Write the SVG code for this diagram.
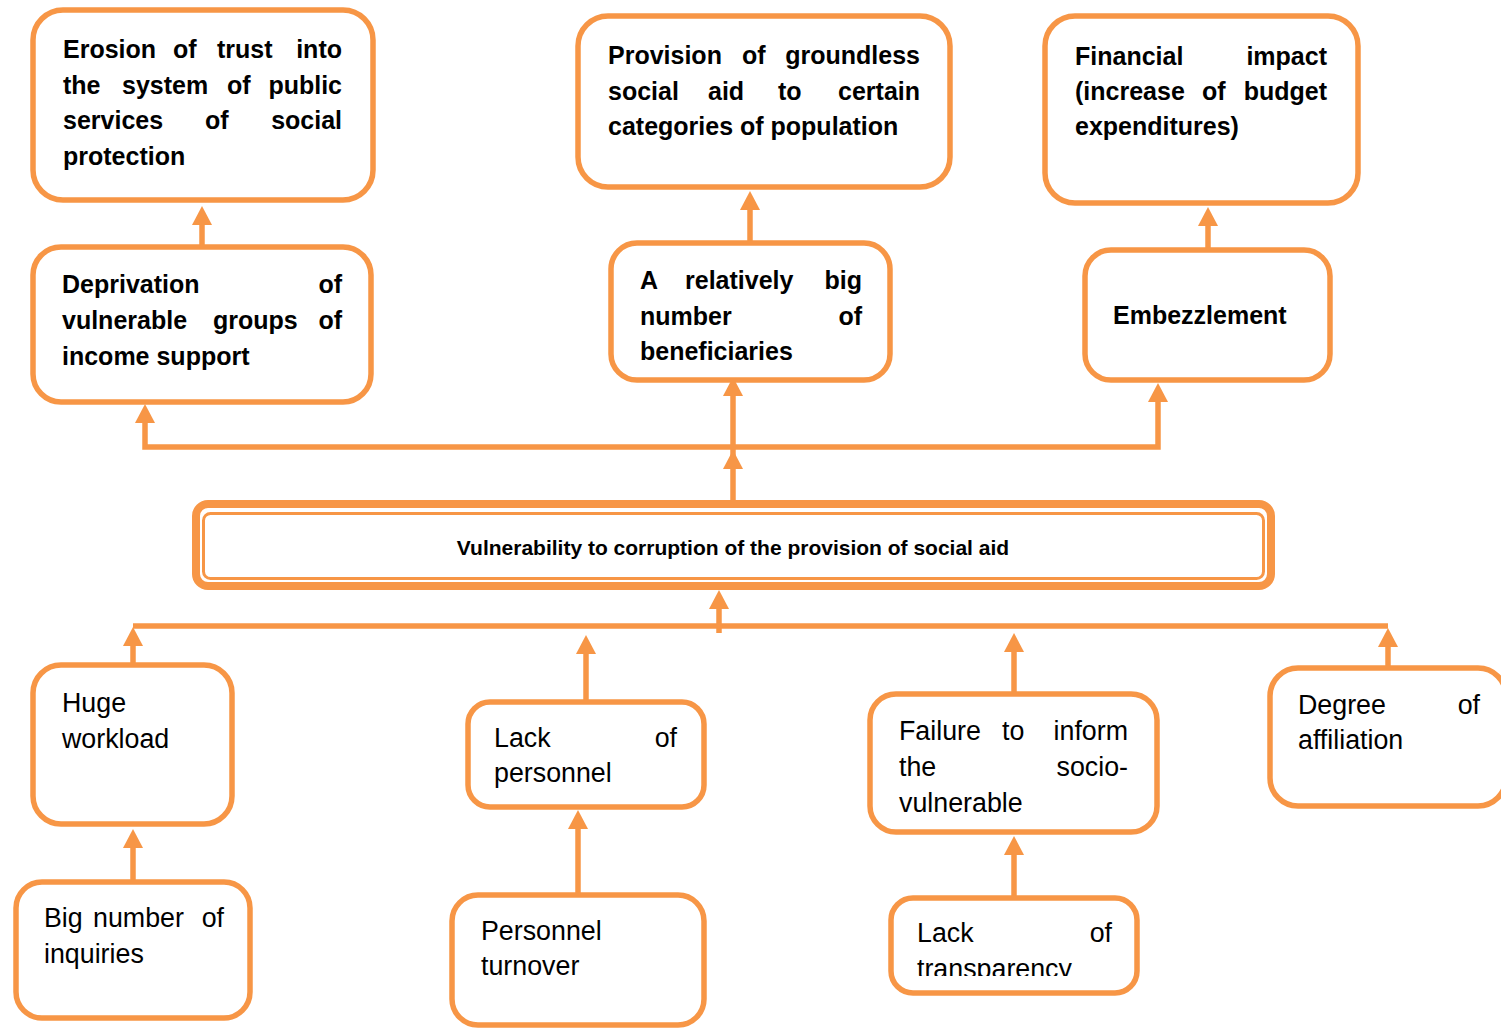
<svg xmlns="http://www.w3.org/2000/svg" width="1501" height="1028" viewBox="0 0 1501 1028">
  <defs>
    <style>
      .box { fill: #ffffff; stroke: #F79646; stroke-width: 5.5; }
      .wire { fill: none; stroke: #F79646; stroke-width: 5.5; }
      .b { font-family: "Liberation Sans", Arial, sans-serif; font-weight: bold; font-size: 25px; fill: #000000; }
      .r { font-family: "Liberation Sans", Arial, sans-serif; font-size: 26.8px; fill: #000000; }
      .e { text-anchor: end; }
    </style>
    <marker id="ah" markerUnits="userSpaceOnUse" viewBox="0 0 19 20" markerWidth="19" markerHeight="20" refX="0" refY="10" orient="auto-start-reverse">
      <path d="M0,0 L19,10 L0,20 z" fill="#F79646"/>
    </marker>
    <clipPath id="clipTransp">
      <rect x="891" y="898" width="246" height="78"/>
    </clipPath>
  </defs>

  <rect width="1501" height="1028" fill="#ffffff"/>

  <!-- connectors -->
  <g id="connectors">
    <!-- upper tree -->
    <path class="wire" d="M202,249 V225" marker-end="url(#ah)"/>
    <path class="wire" d="M750,245 V210" marker-end="url(#ah)"/>
    <path class="wire" d="M1208,252 V226" marker-end="url(#ah)"/>
    <path class="wire" d="M145,423 V447 H1158 V402" marker-start="url(#ah)" marker-end="url(#ah)"/>
    <path class="wire" d="M733,502 V469 V396" marker-mid="url(#ah)" marker-end="url(#ah)"/>
    <!-- lower tree -->
    <path class="wire" d="M719,633 V609" marker-end="url(#ah)"/>
    <path class="wire" d="M133,626 H1388"/>
    <path class="wire" d="M133,666 V646" marker-end="url(#ah)"/>
    <path class="wire" d="M586,703 V654" marker-end="url(#ah)"/>
    <path class="wire" d="M1014,695 V652" marker-end="url(#ah)"/>
    <path class="wire" d="M1388,669 V647" marker-end="url(#ah)"/>
    <path class="wire" d="M133,883 V848" marker-end="url(#ah)"/>
    <path class="wire" d="M578,896 V829" marker-end="url(#ah)"/>
    <path class="wire" d="M1014,899 V855" marker-end="url(#ah)"/>
  </g>

  <g id="erosion-of-trust">
    <rect class="box" x="33" y="10" width="340" height="190" rx="30"/>
    <text class="b"><tspan x="63" y="58">Erosion</tspan><tspan x="173" y="58">of</tspan><tspan x="217" y="58">trust</tspan><tspan class="e" x="342" y="58">into</tspan></text>
    <text class="b"><tspan x="63" y="94">the</tspan><tspan x="122" y="94">system</tspan><tspan x="227" y="94">of</tspan><tspan class="e" x="342" y="94">public</tspan></text>
    <text class="b"><tspan x="63" y="129">services</tspan><tspan x="205" y="129">of</tspan><tspan class="e" x="342" y="129">social</tspan></text>
    <text class="b" x="63" y="165">protection</text>
  </g>

  <g id="groundless-aid">
    <rect class="box" x="578" y="16" width="372" height="171" rx="30"/>
    <text class="b"><tspan x="608" y="64">Provision</tspan><tspan x="742" y="64">of</tspan><tspan class="e" x="920" y="64">groundless</tspan></text>
    <text class="b"><tspan x="608" y="100">social</tspan><tspan x="708" y="100">aid</tspan><tspan x="778" y="100">to</tspan><tspan class="e" x="920" y="100">certain</tspan></text>
    <text class="b" x="608" y="135">categories of population</text>
  </g>

  <g id="financial-impact">
    <rect class="box" x="1045" y="16" width="313" height="187" rx="30"/>
    <text class="b"><tspan x="1075" y="65">Financial</tspan><tspan class="e" x="1327" y="65">impact</tspan></text>
    <text class="b"><tspan x="1075" y="100">(increase</tspan><tspan x="1202" y="100">of</tspan><tspan class="e" x="1327" y="100">budget</tspan></text>
    <text class="b" x="1075" y="135">expenditures)</text>
  </g>

  <g id="deprivation">
    <rect class="box" x="33" y="247" width="338" height="155" rx="28"/>
    <text class="b"><tspan x="62" y="293">Deprivation</tspan><tspan class="e" x="342" y="293">of</tspan></text>
    <text class="b"><tspan x="62" y="329">vulnerable</tspan><tspan x="213" y="329">groups</tspan><tspan class="e" x="342" y="329">of</tspan></text>
    <text class="b" x="62" y="365">income support</text>
  </g>

  <g id="beneficiaries">
    <rect class="box" x="611" y="243" width="279" height="137" rx="26"/>
    <text class="b"><tspan x="640" y="289">A</tspan><tspan x="685" y="289">relatively</tspan><tspan class="e" x="862" y="289">big</tspan></text>
    <text class="b"><tspan x="640" y="325">number</tspan><tspan class="e" x="862" y="325">of</tspan></text>
    <text class="b" x="640" y="360">beneficiaries</text>
  </g>

  <g id="embezzlement">
    <rect class="box" x="1085" y="250" width="245" height="130" rx="26"/>
    <text class="b" x="1113" y="324">Embezzlement</text>
  </g>

  <g id="vulnerability">
    <rect x="196" y="504" width="1075" height="82" rx="12" fill="#ffffff" stroke="#F79646" stroke-width="8"/>
    <rect x="203.5" y="513.5" width="1060" height="65" rx="7" fill="none" stroke="#F79646" stroke-width="3"/>
    <text class="b" x="733" y="555" text-anchor="middle" style="font-size:21px">Vulnerability to corruption of the provision of social aid</text>
  </g>

  <g id="huge-workload">
    <rect class="box" x="33" y="665" width="199" height="159" rx="28"/>
    <text class="r" x="62" y="712">Huge</text>
    <text class="r" x="62" y="748">workload</text>
  </g>

  <g id="inquiries">
    <rect class="box" x="16" y="882" width="234" height="136" rx="26"/>
    <text class="r"><tspan x="44" y="927">Big</tspan><tspan x="93" y="927">number</tspan><tspan class="e" x="224" y="927">of</tspan></text>
    <text class="r" x="44" y="963">inquiries</text>
  </g>

  <g id="lack-of-personnel">
    <rect class="box" x="468" y="702" width="236" height="105" rx="22"/>
    <text class="r"><tspan x="494" y="747">Lack</tspan><tspan class="e" x="677" y="747">of</tspan></text>
    <text class="r" x="494" y="782">personnel</text>
  </g>

  <g id="personnel-turnover">
    <rect class="box" x="452" y="895" width="252" height="130" rx="26"/>
    <text class="r" x="481" y="940">Personnel</text>
    <text class="r" x="481" y="975">turnover</text>
  </g>

  <g id="failure-to-inform">
    <rect class="box" x="870" y="694" width="287" height="138" rx="26"/>
    <text class="r"><tspan x="899" y="740">Failure</tspan><tspan x="1002" y="740">to</tspan><tspan class="e" x="1128" y="740">inform</tspan></text>
    <text class="r"><tspan x="899" y="776">the</tspan><tspan class="e" x="1128" y="776">socio-</tspan></text>
    <text class="r" x="899" y="812">vulnerable</text>
  </g>

  <g id="lack-of-transparency">
    <rect class="box" x="891" y="898" width="246" height="95" rx="22"/>
    <g clip-path="url(#clipTransp)">
      <text class="r"><tspan x="917" y="942">Lack</tspan><tspan class="e" x="1112" y="942">of</tspan></text>
      <text class="r" x="917" y="978">transparency</text>
    </g>
  </g>

  <g id="degree-of-affiliation">
    <rect class="box" x="1270" y="668" width="236" height="138" rx="28"/>
    <text class="r"><tspan x="1298" y="714">Degree</tspan><tspan class="e" x="1480" y="714">of</tspan></text>
    <text class="r" x="1298" y="749">affiliation</text>
  </g>
</svg>
